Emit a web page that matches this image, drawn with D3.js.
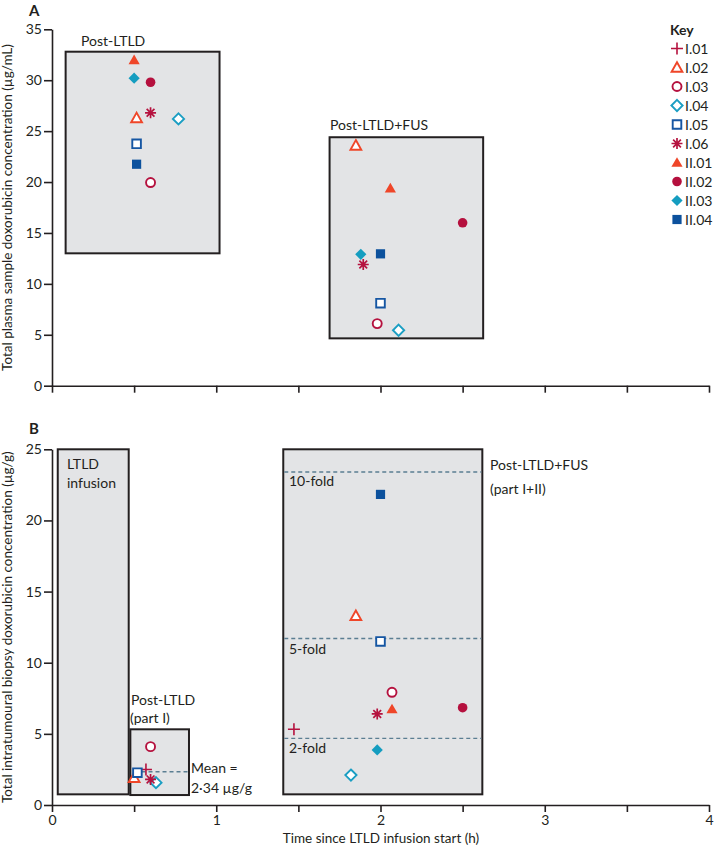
<!DOCTYPE html>
<html><head><meta charset="utf-8">
<script src="https://cdn.jsdelivr.net/npm/d3@7"></script>
<style>
body{margin:0;background:#fff;}
svg{display:block;font-family:Lato, "Open Sans", sans-serif;}
</style></head>
<body>
<svg id="chart" width="714" height="848"></svg>
<script>
// ---------- DATA ----------
const seriesIds = ["I.01","I.02","I.03","I.04","I.05","I.06","II.01","II.02","II.03","II.04"];
const seriesShapes = ["plus","triangle","circle","diamond","square","asterisk","triangle","circle","diamond","square"];
const seriesFilled = [false,false,false,false,false,false,true,true,true,true];
const seriesColors = ["#b5123f","#ef4629","#b5123f","#1a9ec3","#1656a3","#b5123f","#ef4629","#b5103e","#159dc0","#0c519d"];

// Panel A: plasma concentration (µg/mL)
const plasmaPostTime  = [null,0.515,0.60,0.77,0.515,0.60,0.50,0.60,0.50,0.515];
const plasmaPostValue = [null,26.3,19.95,26.2,23.75,26.8,32.0,29.8,30.2,21.75];
const plasmaFusTime   = [null,1.85,1.98,2.11,2.0,1.895,2.06,2.5,1.88,2.0];
const plasmaFusValue  = [null,23.6,6.1,5.45,8.1,11.9,19.4,16.0,12.9,12.95];

// Panel B: intratumoural biopsy concentration (µg/g)
const tumourPostTime  = [0.572,0.50,0.60,0.633,0.52,0.60,null,null,null,null];
const tumourPostValue = [2.5,1.92,4.1,1.57,2.27,1.8,null,null,null,null];
const tumourFusTime   = [1.473,1.85,2.07,1.82,2.0,1.98,2.07,2.5,1.98,2.0];
const tumourFusValue  = [5.32,13.3,7.92,2.1,11.5,6.4,6.75,6.84,3.87,21.83];

// Shaded time/value windows
const plasmaBoxes = [[0.083,1.02,13.0,32.8],[1.69,2.625,4.65,24.4]];
const tumourBoxes = [[0.035,0.467,0.75,25],[0.477,0.834,0.7,5.32],[1.408,2.62,0.75,25]];
const meanPost = 2.34;
const foldValues = [2,5,10];

const xTicks = [0,0.5,1,1.5,2,2.5,3,3.5,4];
const yTicksA = [0,5,10,15,20,25,30,35];
const yTicksB = [0,5,10,15,20,25];

// ---------- LAYOUT ----------
const svg = d3.select("#chart");
const ink = "#231f20";
const boxFill = "#e3e4e6";
const dashColor = "#5b7e92";
const fs = 13;

const x = d3.scaleLinear().domain([0,4]).range([52,709]);
const yA = d3.scaleLinear().domain([0,35]).range([385.7,29.3]);
const yB = d3.scaleLinear().domain([0,25]).range([805,449.3]);

function shapePath(shape, filled){
  const p = d3.path();
  if(shape==="triangle"){ const w = filled?5.6:5.4, h = 4.8;
    p.moveTo(0,-h-0.5); p.lineTo(w,h-0.5); p.lineTo(-w,h-0.5); p.closePath(); }
  else if(shape==="circle"){ const r = filled?4.8:4.5; p.arc(0,0,r,0,2*Math.PI); }
  else if(shape==="square"){ const s = filled?4.6:4.3; p.rect(-s,-s,2*s,2*s); }
  else if(shape==="diamond"){ const s = 5.6; p.moveTo(0,-s); p.lineTo(s,0); p.lineTo(0,s); p.lineTo(-s,0); p.closePath(); }
  else if(shape==="plus"){ const s=6; p.moveTo(-s,0); p.lineTo(s,0); p.moveTo(0,-s); p.lineTo(0,s); }
  else if(shape==="asterisk"){ const s=5.5; for(let k=0;k<4;k++){ const a=k*Math.PI/4; p.moveTo(-s*Math.cos(a),-s*Math.sin(a)); p.lineTo(s*Math.cos(a),s*Math.sin(a)); } }
  return p.toString();
}
function drawMarker(g, i, cx, cy){
  const shape = seriesShapes[i], filled = seriesFilled[i], c = seriesColors[i];
  const path = g.append("path").attr("d", shapePath(shape, filled))
    .attr("transform", `translate(${cx},${cy})`);
  if(shape==="plus"||shape==="asterisk"){
    path.attr("fill","none").attr("stroke",c).attr("stroke-width",shape==="plus"?1.6:1.7);
  } else if(filled){
    path.attr("fill",c).attr("stroke","none");
  } else {
    path.attr("fill","#fff").attr("stroke",c).attr("stroke-width",1.9);
  }
}
function drawBoxes(g, boxes, y){
  boxes.forEach(b=>{
    g.append("rect").attr("x",x(b[0])).attr("y",y(b[3]))
      .attr("width",x(b[1])-x(b[0])).attr("height",y(b[2])-y(b[3]))
      .attr("fill",boxFill).attr("stroke",ink).attr("stroke-width",2);
  });
}
function drawAxes(g, y, yTicks, showXLabels){
  const ax = g.append("g").attr("transform",`translate(${x(0)},0)`)
    .call(d3.axisLeft(y).tickValues(yTicks).tickSize(8).tickPadding(2).tickSizeOuter(0));
  const bx = g.append("g").attr("transform",`translate(0,${y(0)})`)
    .call(d3.axisBottom(x).tickValues(xTicks).tickSize(7).tickPadding(3).tickSizeOuter(0)
      .tickFormat(d => showXLabels && Number.isInteger(d) ? d : ""));
  [ax,bx].forEach(a=>{
    a.selectAll("path,line").attr("stroke",ink).attr("stroke-width",1.6);
    a.selectAll("text").attr("fill",ink).attr("font-size",14).attr("font-family","Lato, sans-serif");
  });
}
function label(g, tx, ty, str, opts={}){
  const t = g.append("text").attr("x",tx).attr("y",ty).text(str)
    .attr("fill",ink).attr("font-size",opts.size||fs);
  if(opts.bold) t.attr("font-weight","bold");
  if(opts.anchor) t.attr("text-anchor",opts.anchor);
  return t;
}

// ---------- PANEL A ----------
const gA = svg.append("g");
drawBoxes(gA, plasmaBoxes, yA);
drawAxes(gA, yA, yTicksA, false);
seriesIds.forEach((s,i)=>{ if(plasmaPostTime[i]!=null) drawMarker(gA,i,x(plasmaPostTime[i]),yA(plasmaPostValue[i])); });
seriesIds.forEach((s,i)=>{ if(plasmaFusTime[i]!=null) drawMarker(gA,i,x(plasmaFusTime[i]),yA(plasmaFusValue[i])); });
label(gA, 29, 16, "A", {bold:true, size:15});
label(gA, 81, 46, "Post-LTLD", {size:14});
label(gA, 330, 130, "Post-LTLD+FUS", {size:14});
gA.append("text").attr("transform",`translate(12,${(yA(0)+yA(35))/2}) rotate(-90)`)
  .attr("text-anchor","middle").attr("fill",ink).attr("font-size",13.5)
  .text("Total plasma sample doxorubicin concentration (µg/mL)");

// Legend
const gL = svg.append("g");
label(gL, 670, 35, "Key", {bold:true, size:14});
seriesIds.forEach((s,i)=>{
  const ly = 48.5 + i*19;
  drawMarker(gL, i, 677, ly);
  label(gL, 685, ly+5, s, {size:14});
});

// ---------- PANEL B ----------
const gB = svg.append("g");
drawBoxes(gB, tumourBoxes, yB);
const fusBox = tumourBoxes[2];
foldValues.forEach(f=>{
  gB.append("line").attr("x1",x(fusBox[0])+1).attr("x2",x(fusBox[1])-1)
    .attr("y1",yB(meanPost*f)).attr("y2",yB(meanPost*f))
    .attr("stroke",dashColor).attr("stroke-width",1.4).attr("stroke-dasharray","4,3");
});
const partBox = tumourBoxes[1];
gB.append("line").attr("x1",x(0.545)).attr("x2",x(partBox[1])-1)
  .attr("y1",yB(meanPost)).attr("y2",yB(meanPost))
  .attr("stroke",dashColor).attr("stroke-width",1.4).attr("stroke-dasharray","4,3");
drawAxes(gB, yB, yTicksB, true);
seriesIds.forEach((s,i)=>{ if(tumourPostTime[i]!=null) drawMarker(gB,i,x(tumourPostTime[i]),yB(tumourPostValue[i])); });
seriesIds.forEach((s,i)=>{ if(tumourFusTime[i]!=null) drawMarker(gB,i,x(tumourFusTime[i]),yB(tumourFusValue[i])); });

label(gB, 29, 434, "B", {bold:true, size:15});
label(gB, 67, 469, "LTLD", {size:14});
label(gB, 67, 488, "infusion", {size:14});
label(gB, 131, 705, "Post-LTLD", {size:14});
label(gB, 130, 723, "(part I)", {size:14});
label(gB, 191, 773, "Mean =", {size:14});
label(gB, 191, 793, "2·34 µg/g", {size:14});
label(gB, 289, 486, "10-fold", {size:14});
label(gB, 289, 654, "5-fold", {size:14});
label(gB, 289, 753, "2-fold", {size:14});
label(gB, 490, 470, "Post-LTLD+FUS", {size:14});
label(gB, 490, 494, "(part I+II)", {size:14});
gB.append("text").attr("transform",`translate(12,${(yB(0)+yB(25))/2}) rotate(-90)`)
  .attr("text-anchor","middle").attr("fill",ink).attr("font-size",13.5)
  .text("Total intratumoural biopsy doxorubicin concentration (µg/g)");
label(gB, 381, 843, "Time since LTLD infusion start (h)", {size:13.5, anchor:"middle"});
</script>
</body></html>
